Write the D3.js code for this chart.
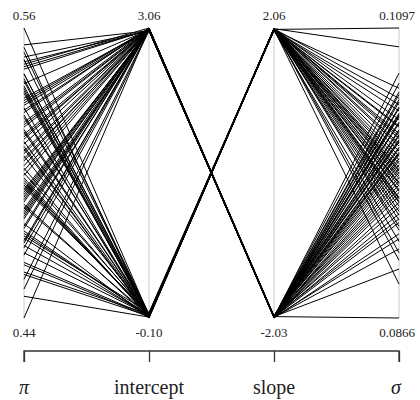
<!DOCTYPE html>
<html>
<head>
<meta charset="utf-8">
<script src="https://cdn.jsdelivr.net/npm/d3@7"></script>
<style>
  body { margin: 0; background: #fff; }
  svg text { font-family: "Liberation Serif", Tinos, "DejaVu Serif", "Times New Roman", serif; }
</style>
</head>
<body>
<div id="chart"></div>
<script>
// parallel coordinates of posterior draws

const dims = ["pi", "intercept", "slope", "sigma"]
const dimLabels = ["π", "intercept", "slope", "σ"]
const dimDigits = [2, 2, 2, 4]

const piVals = [0.560, 0.512, 0.498, 0.537, 0.471, 0.523, 0.489, 0.552, 0.505, 0.463,
    0.531, 0.494, 0.517, 0.478, 0.546, 0.502, 0.485, 0.527, 0.456, 0.541,
    0.509, 0.492, 0.534, 0.474, 0.519, 0.497, 0.548, 0.467, 0.525, 0.481,
    0.539, 0.503, 0.459, 0.515, 0.487, 0.529, 0.495, 0.553, 0.476, 0.521,
    0.500, 0.543, 0.469, 0.511, 0.483, 0.533, 0.491, 0.518, 0.452, 0.507,
    0.526, 0.479, 0.544, 0.496, 0.514, 0.472, 0.536, 0.488, 0.449, 0.440,
    0.508, 0.486, 0.530, 0.473, 0.547, 0.501, 0.462, 0.520, 0.493, 0.538,
    0.477, 0.513, 0.499, 0.550, 0.466, 0.524, 0.490, 0.541, 0.482, 0.506,
    0.458, 0.528, 0.495, 0.516, 0.470, 0.535, 0.484, 0.510, 0.545, 0.475]

const interceptVals = [-0.07, 3.05, -0.09, 3.04, 3.06, -0.06, 3.03, -0.10, 3.05, -0.08,
    3.04, -0.05, -0.08, 3.05, 3.03, -0.07, 3.06, -0.09, 3.04, -0.06,
    3.05, 3.04, -0.08, -0.04, 3.05, -0.09, 3.03, -0.07, 3.06, 3.04,
    -0.08, 3.05, -0.06, 3.04, -0.09, 3.05, -0.07, 3.03, -0.08, 3.06,
    -0.05, 3.04, 3.05, -0.09, 3.04, -0.07, 3.05, -0.08, 3.03, -0.06,
    3.05, -0.10, 3.04, -0.07, 3.06, 3.04, -0.08, 3.05, -0.09, 3.05,
    3.04, -0.07, 3.05, -0.08, -0.06, 3.04, -0.09, 3.05, 3.03, -0.07,
    3.06, -0.08, 3.04, -0.06, 3.05, -0.09, 3.04, -0.07, 3.05, 3.03,
    -0.08, 3.04, -0.06, 3.05, -0.07, -0.09, 3.04, -0.08, 3.06, -0.07]

const slopeVals = [2.04, -2.01, 2.05, -2.02, -2.00, 2.03, -2.02, 2.06, -2.01, 2.04,
    -2.03, 2.02, 2.05, -2.01, -2.02, 2.04, -2.00, 2.05, -2.02, 2.03,
    -2.01, -2.02, 2.04, 2.05, -2.01, 2.03, -2.02, 2.04, -2.01, -2.03,
    2.05, -2.02, 2.04, -2.01, 2.03, -2.02, 2.05, -2.00, 2.04, -2.02,
    2.03, -2.01, -2.02, 2.05, -2.01, 2.04, -2.02, 2.03, -2.01, 2.05,
    -2.02, 2.04, -2.01, 2.03, -2.02, -2.01, 2.05, -2.02, 2.04, -2.01,
    -2.02, 2.04, -2.01, 2.05, 2.04, -2.02, 2.03, -2.01, -2.02, 2.05,
    -2.01, 2.04, -2.02, 2.03, -2.01, 2.05, -2.02, 2.04, -2.01, -2.02,
    2.05, -2.01, 2.04, -2.02, 2.03, 2.05, -2.01, 2.04, -2.02, 2.05]

const sigmaVals = [0.1097, 0.0866, 0.1082, 0.0991, 0.1012, 0.0958, 0.1034, 0.0973, 0.0945, 0.1018,
    0.0982, 0.0927, 0.1041, 0.1006, 0.0963, 0.0995, 0.1027, 0.0939, 0.0978, 0.1049,
    0.0954, 0.1021, 0.0986, 0.0912, 0.1002, 0.1031, 0.0969, 0.0961, 0.1044, 0.0933,
    0.1009, 0.0988, 0.0948, 0.1015, 0.0979, 0.0958, 0.1024, 0.0998, 0.0893, 0.1038,
    0.0967, 0.0975, 0.0921, 0.1003, 0.1053, 0.0984, 0.0942, 0.1036, 0.1008, 0.0951,
    0.0966, 0.1013, 0.0905, 0.0992, 0.1029, 0.0985, 0.0936, 0.1061, 0.0974, 0.0997,
    0.0996, 0.1019, 0.0972, 0.1005, 0.0959, 0.1026, 0.0981, 0.1011, 0.0949, 0.0989,
    0.1033, 0.0968, 0.1001, 0.0944, 0.1016, 0.0977, 0.1022, 0.0955, 0.0993, 0.1040,
    0.0962, 0.1007, 0.0983, 0.1028, 0.0971, 0.0918, 0.1046, 0.0999, 0.0929, 0.1011]

const width = 420
const height = 400
const yTop = 28
const yBottom = 318

const data = piVals.map((p, i) => ({
    pi: p,
    intercept: interceptVals[i],
    slope: slopeVals[i],
    sigma: sigmaVals[i]
}))

const svg = d3.select("div#chart").append("svg").attr("width", width).attr("height", height)

const x = d3.scalePoint().domain(dims).range([24, 399])

// one y scale per dimension, domain = min/max of the draws
const y = {}
dims.forEach(d => {
    y[d] = d3.scaleLinear().domain(d3.extent(data, r => r[d])).range([yBottom, yTop])
})

// gray vertical axes
svg.append("g").selectAll("line").data(dims).join("line")
    .attr("x1", d => x(d)).attr("x2", d => x(d))
    .attr("y1", yTop).attr("y2", yBottom)
    .attr("stroke", "#cccccc").attr("stroke-width", 1)

// the lines
const line = d3.line()
svg.append("g").selectAll("path").data(data).join("path")
    .attr("d", r => line(dims.map(d => [x(d), y[d](r[d])])))
    .attr("fill", "none")
    .attr("stroke", "#000")
    .attr("stroke-width", 1)

// min / max labels
dims.forEach((d, i) => {
    const [lo, hi] = y[d].domain()
    svg.append("text").attr("x", x(d) - (i === 3 ? 2 : 0)).attr("y", 19.5)
        .attr("text-anchor", "middle").attr("fill", "#222").style("font-size", "13px")
        .text(hi.toFixed(dimDigits[i]))
    svg.append("text").attr("x", x(d) - (i === 3 ? 2 : 0)).attr("y", 337)
        .attr("text-anchor", "middle").attr("fill", "#222").style("font-size", "13px")
        .text(lo.toFixed(dimDigits[i]))
})

// bottom axis with dimension names
const axisG = svg.append("g").attr("transform", "translate(0,351)")
axisG.call(d3.axisBottom(x).tickSize(11).tickFormat(""))
axisG.select(".domain").attr("d", `M${x.range()[0]},11V0H${x.range()[1]}V11`)
    .attr("stroke", "#333").attr("stroke-width", 1.3)
axisG.selectAll(".tick line").attr("stroke", "#333").attr("stroke-width", 1.3)

svg.append("g").selectAll("text").data(dims).join("text")
    .attr("x", (d, i) => x(d) + (i === 3 ? -3 : 0)).attr("y", 394)
    .attr("text-anchor", "middle")
    .attr("fill", "#222")
    .style("font-size", "20px")
    .style("font-style", (d, i) => (i === 0 || i === 3) ? "italic" : "normal")
    .text((d, i) => dimLabels[i])
</script>
</body>
</html>
